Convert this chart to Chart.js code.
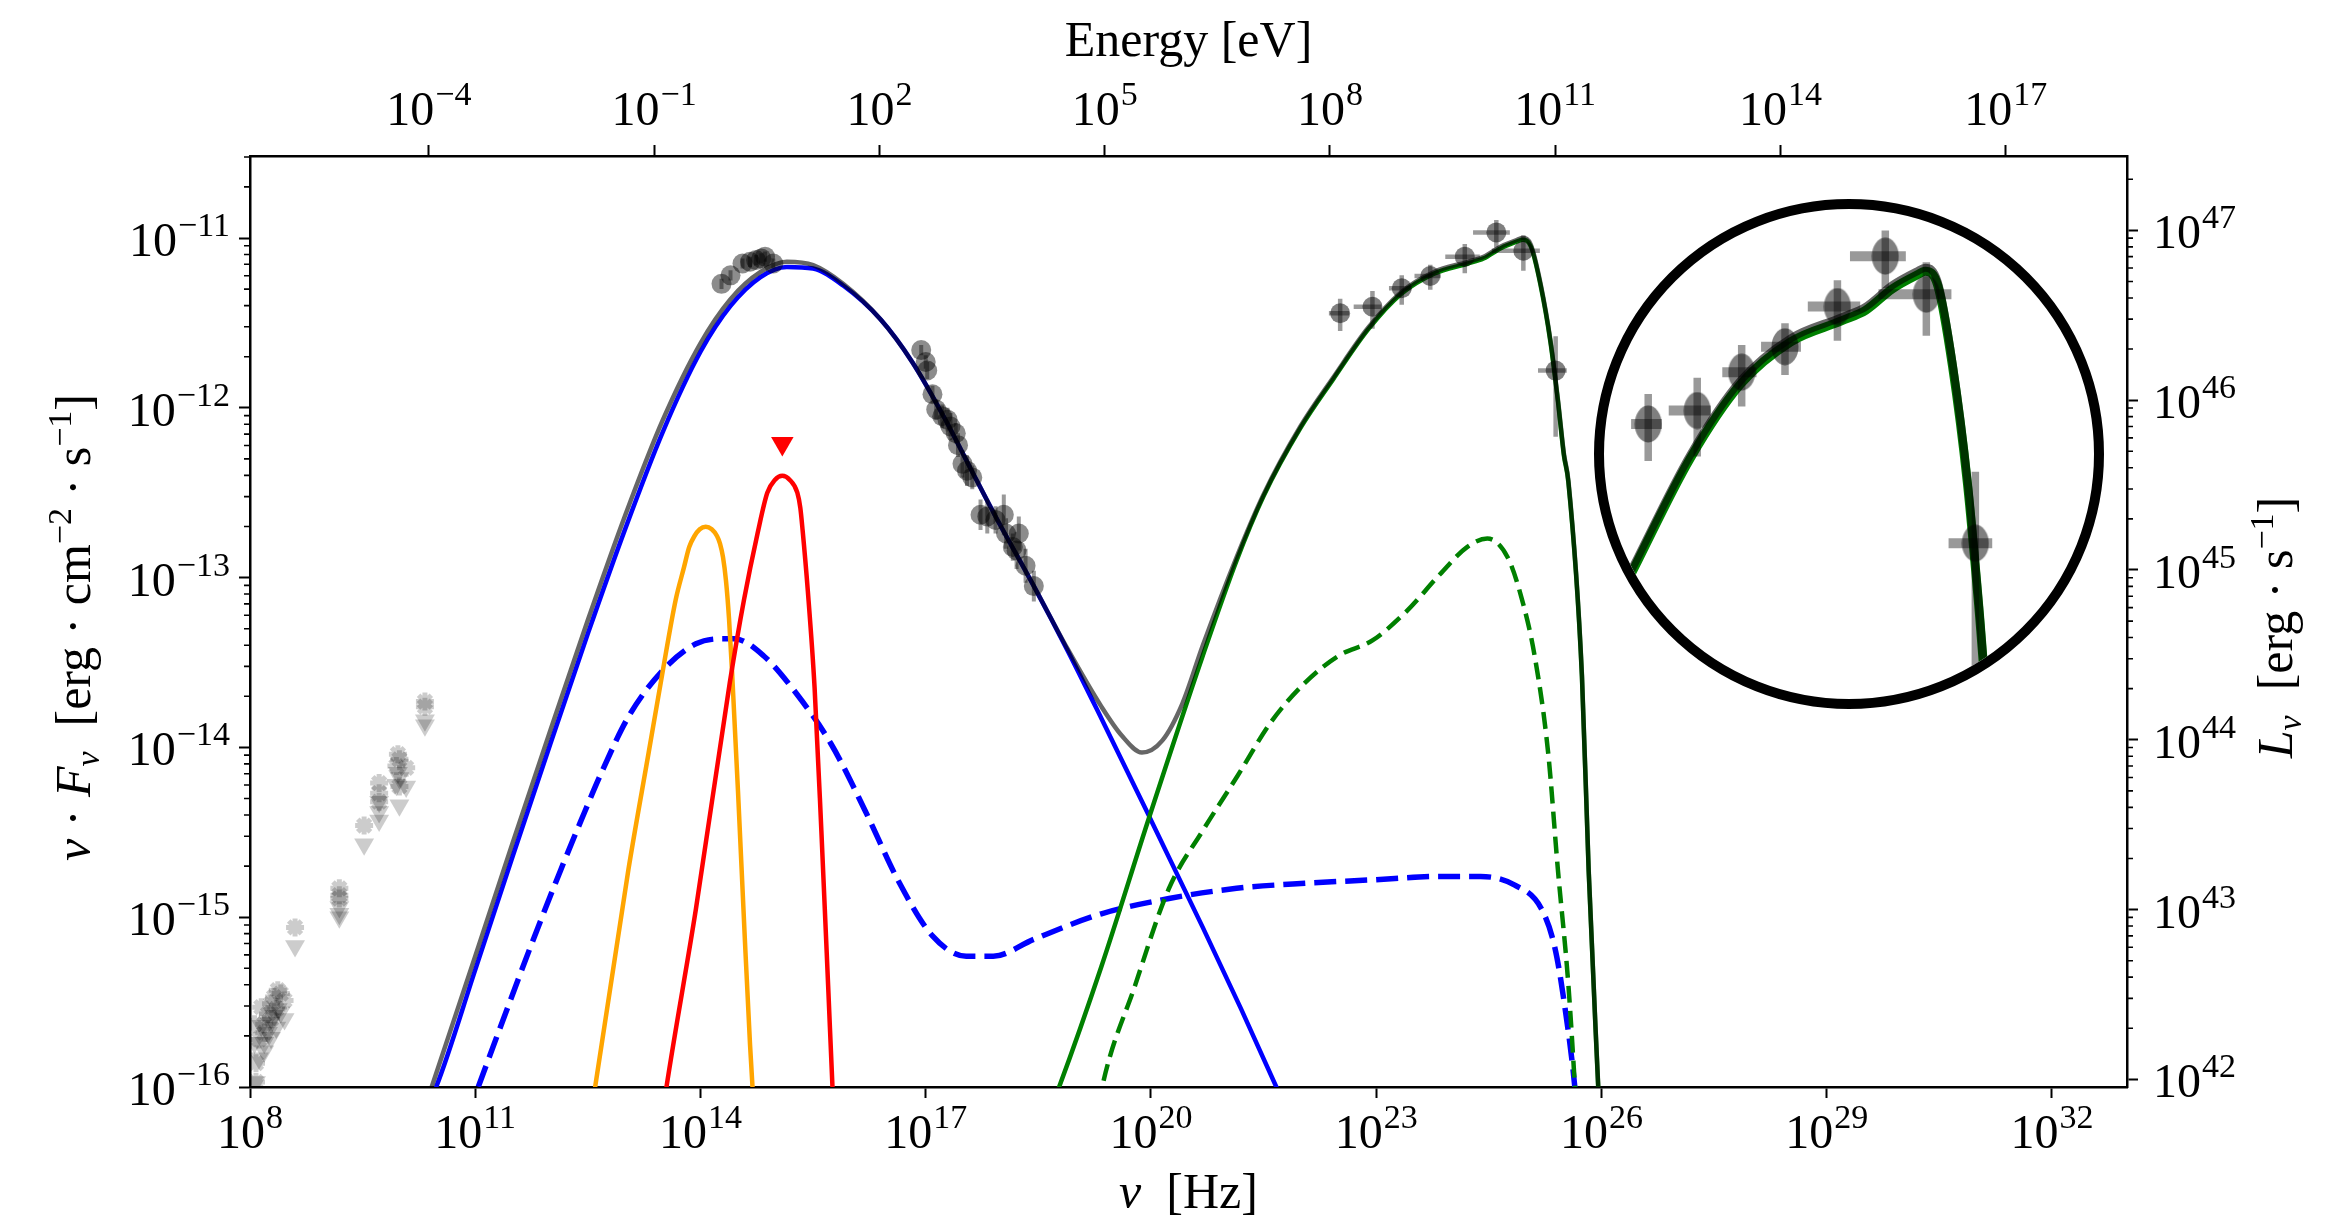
<!DOCTYPE html>
<html>
<head>
<meta charset="utf-8">
<script src="https://cdn.jsdelivr.net/npm/chart.js@4.4.1/dist/chart.umd.min.js"></script>
<style>
  html, body { margin: 0; padding: 0; background: #fff; }
  #wrap { position: relative; width: 2332px; height: 1225px; }
  #zoomBox { position: absolute; left: 1594px; top: 199px; width: 490px; height: 490px;
             border: 10px solid #000; border-radius: 50%; overflow: hidden; background: #fff; }
</style>
</head>
<body>
<div id="wrap">
  <canvas id="sed" width="2332" height="1225"></canvas>
  <div id="zoomBox"><canvas id="zoom" width="490" height="490"></canvas></div>
</div>
<script>
// all values are log10: frequency in Hz, nuFnu in erg cm^-2 s^-1
const nuTicks = [8, 11, 14, 17, 20, 23, 26, 29, 32];
const eTicks = [-4, -1, 2, 5, 8, 11, 14, 17];
const fTicks = [-16, -15, -14, -13, -12, -11];
const lTicks = [42, 43, 44, 45, 46, 47];

const H_EV = 4.135667e-15;     // eV per Hz
const LUM_OFFSET = 57.955;     // log10(L / nuFnu)

// total model (grey)
const totNu = [10.2, 10.42, 11.0, 11.5, 12.0, 12.5, 13.0, 13.5, 14.0, 14.4, 14.8, 15.15, 15.5, 15.9, 16.4, 16.82, 17.25, 17.6, 17.93, 18.44, 18.89, 19.34, 19.61, 19.88, 20.15, 20.42, 20.69, 21.14, 21.5, 21.99, 22.43, 22.89, 23.33, 23.77, 24.22, 24.43, 24.66, 24.88, 24.95, 25.06, 25.19, 25.32, 25.42, 25.5, 25.56, 25.74, 25.83, 25.96, 26.05];
const totF = [-16.3, -16, -15.23, -14.56, -13.90, -13.25, -12.63, -12.07, -11.62, -11.36, -11.20, -11.14, -11.16, -11.27, -11.48, -11.73, -12.06, -12.36, -12.64, -13.05, -13.42, -13.76, -13.93, -14.03, -13.96, -13.74, -13.40, -12.88, -12.51, -12.11, -11.82, -11.53, -11.32, -11.20, -11.14, -11.11, -11.05, -11.01, -11.00, -11.04, -11.27, -11.60, -11.95, -12.27, -12.43, -13.57, -14.72, -16.02, -16.9];

// synchrotron (blue)
const synNu = [10.3, 10.48, 11.0, 11.5, 12.0, 12.5, 13.0, 13.5, 14.0, 14.4, 14.8, 15.15, 15.5, 15.9, 16.4, 16.82, 17.25, 17.6, 17.93, 18.44, 18.89, 19.34, 19.97, 20.69, 21.2, 21.67, 21.85];
const synF = [-16.17, -16, -15.31, -14.64, -13.98, -13.33, -12.71, -12.14, -11.67, -11.40, -11.23, -11.17, -11.18, -11.28, -11.48, -11.73, -12.06, -12.36, -12.64, -13.05, -13.43, -13.83, -14.40, -15.06, -15.54, -16.0, -16.18];

// second leptonic component (blue dashed)
const sscNu = [10.9, 11.04, 11.4, 11.74, 12.14, 12.41, 12.68, 13.04, 13.49, 13.94, 14.30, 14.45, 14.84, 15.29, 15.74, 16.19, 16.64, 17.09, 17.54, 17.90, 18.44, 19.34, 20.24, 21.14, 22.05, 22.95, 23.85, 24.39, 24.84, 25.20, 25.38, 25.51, 25.65, 25.7];
const sscF = [-16.17, -16, -15.57, -15.17, -14.72, -14.43, -14.15, -13.82, -13.55, -13.39, -13.36, -13.36, -13.46, -13.69, -13.98, -14.37, -14.79, -15.11, -15.23, -15.23, -15.13, -14.98, -14.89, -14.83, -14.80, -14.78, -14.76, -14.76, -14.81, -14.95, -15.18, -15.52, -16.02, -16.3];

// external Compton (green)
const ecNu = [18.6, 18.76, 19.34, 19.97, 20.69, 21.14, 21.5, 21.99, 22.43, 22.89, 23.33, 23.77, 24.22, 24.43, 24.66, 24.88, 24.95, 25.06, 25.19, 25.32, 25.42, 25.5, 25.56, 25.74, 25.83, 25.96, 26.05];
const ecF = [-16.2, -16.02, -15.29, -14.42, -13.46, -12.90, -12.52, -12.12, -11.83, -11.54, -11.33, -11.21, -11.15, -11.12, -11.06, -11.02, -11.01, -11.05, -11.28, -11.61, -11.96, -12.28, -12.44, -13.58, -14.73, -16.03, -16.9];

// green dashed
const ecdNu = [19.2, 19.34, 19.79, 20.24, 20.69, 21.15, 21.60, 22.05, 22.50, 22.95, 23.40, 23.85, 24.21, 24.48, 24.75, 24.93, 25.11, 25.29, 25.42, 25.56, 25.65, 25.7];
const ecdF = [-16.4, -16.02, -15.40, -14.83, -14.49, -14.17, -13.85, -13.62, -13.46, -13.37, -13.20, -12.98, -12.82, -12.77, -12.88, -13.11, -13.46, -14.03, -14.72, -15.40, -16.02, -16.4];

// accretion disk (orange) and BLR (red)
const diskNu = [12.5, 12.59, 13.04, 13.31, 13.49, 13.67, 13.78, 13.85, 13.92, 13.99, 14.07, 14.15, 14.22, 14.26, 14.30, 14.34, 14.38, 14.42, 14.50, 14.59, 14.66, 14.72];
const diskF = [-16.3, -16.02, -14.72, -14.03, -13.57, -13.13, -12.94, -12.82, -12.755, -12.715, -12.70, -12.715, -12.755, -12.80, -12.88, -13.02, -13.24, -13.55, -14.26, -15.12, -15.75, -16.2];
const blrNu = [13.45, 13.54, 13.94, 14.39, 14.58, 14.76, 14.89, 14.99, 15.09, 15.19, 15.29, 15.33, 15.36, 15.43, 15.52, 15.61, 15.70, 15.76, 15.8];
const blrF = [-16.3, -16.02, -14.95, -13.62, -13.13, -12.74, -12.50, -12.425, -12.40, -12.425, -12.50, -12.59, -12.72, -13.08, -13.65, -14.49, -15.40, -16.02, -16.4];

// observations
const optNu = [14.28, 14.40, 14.56, 14.66, 14.74, 14.81, 14.86, 14.97];
const optF = [-11.27, -11.22, -11.15, -11.14, -11.13, -11.12, -11.11, -11.15];
const optErr = [0.03, 0.03, 0.03, 0.03, 0.03, 0.03, 0.03, 0.03];

const xrNu = [16.94, 17.00, 17.02, 17.09, 17.14, 17.22, 17.29, 17.33, 17.40, 17.43, 17.49, 17.55, 17.62, 17.73, 17.82, 17.93, 18.04, 18.07, 18.24, 18.16, 18.21, 18.33, 18.44];
const xrF = [-11.66, -11.73, -11.78, -11.92, -12.01, -12.05, -12.07, -12.11, -12.15, -12.22, -12.33, -12.37, -12.41, -12.63, -12.64, -12.66, -12.63, -12.74, -12.74, -12.82, -12.84, -12.93, -13.05];
const xrErr = [0.03, 0.04, 0.05, 0.05, 0.06, 0.07, 0.07, 0.08, 0.06, 0.07, 0.08, 0.09, 0.07, 0.09, 0.10, 0.08, 0.12, 0.09, 0.10, 0.08, 0.11, 0.10, 0.09];

const gamNu = [22.52, 22.95, 23.34, 23.72, 24.18, 24.60, 24.96, 25.39];
const gamF = [-11.443, -11.405, -11.296, -11.224, -11.110, -10.967, -11.075, -11.781];
const gamXlo = [0.15, 0.25, 0.17, 0.21, 0.26, 0.31, 0.42, 0.235];
const gamXhi = [0.12, 0.12, 0.13, 0.14, 0.20, 0.18, 0.22, 0.148];
const gamYlo = [0.105, 0.13, 0.097, 0.08, 0.097, 0.09, 0.118, 0.39];
const gamYhi = [0.085, 0.093, 0.077, 0.067, 0.075, 0.073, 0.091, 0.203];

// radio upper limits
const ulNu = [8.06, 8.08, 8.08, 8.12, 8.15, 8.19, 8.19, 8.24, 8.28, 8.28, 8.32, 8.35, 8.37, 8.41, 8.46, 8.60, 9.19, 9.19, 9.19, 9.52, 9.72, 9.72, 9.72, 9.95, 9.97, 9.99, 9.99, 10.08, 10.33, 10.33];
const ulF = [-15.63, -15.86, -15.97, -15.72, -15.53, -15.63, -15.68, -15.57, -15.51, -15.60, -15.47, -15.54, -15.43, -15.45, -15.49, -15.06, -14.83, -14.87, -14.89, -14.46, -14.21, -14.27, -14.32, -14.11, -14.04, -14.07, -14.23, -14.12, -13.73, -13.76];
const UL_DROP = 0.11;

// optical upper limit (red)
const redUlNu = [15.09];
const redUlF = [-12.21];

const SERIF = '"Liberation Serif", "DejaVu Serif", serif';
const P = v => Math.pow(10, v);
const curve = (xs, ys) => xs.map((x, i) => ({ x: P(x), y: P(ys[i]) }));

function vBars(xs, ys, lo, hi) {
  const out = [];
  xs.forEach((x, i) => out.push({ x: P(x), y: P(ys[i] - lo[i]) }, { x: P(x), y: P(ys[i] + hi[i]) }, { x: P(x), y: null }));
  return out;
}
function hBars(xs, ys, lo, hi) {
  const out = [];
  xs.forEach((x, i) => out.push({ x: P(x - lo[i]), y: P(ys[i]) }, { x: P(x + hi[i]), y: P(ys[i]) }, { x: P(x), y: null }));
  return out;
}

const lineDs = (data, color, width, order, dash) => ({
  data, borderColor: color, borderWidth: width, pointRadius: 0, fill: false, order,
  borderDash: dash || [], cubicInterpolationMode: 'monotone'
});
const barDs = (data, width, order) => ({
  data, borderColor: 'rgba(0,0,0,0.4)', borderWidth: width, pointRadius: 0,
  tension: 0, cubicInterpolationMode: 'default', spanGaps: false, order
});
const dotDs = (data, style, radius, color, order, extra) => Object.assign({
  data, showLine: false, pointStyle: style, pointRadius: radius,
  pointBackgroundColor: color, pointBorderColor: color, pointBorderWidth: 0, order
}, extra || {});

function powLabel(ctx, exp, x, y, align) {
  const base = '10';
  const sup = exp < 0 ? '\u2212' + (-exp) : String(exp);
  ctx.font = '48px ' + SERIF;
  const wb = ctx.measureText(base).width;
  ctx.font = '34px ' + SERIF;
  const ws = ctx.measureText(sup).width;
  const w = wb + ws + 1;
  const x0 = align === 'center' ? x - w / 2 : align === 'right' ? x - w : x;
  ctx.textAlign = 'left';
  ctx.textBaseline = 'alphabetic';
  ctx.font = '48px ' + SERIF;
  ctx.fillText(base, x0, y);
  ctx.font = '34px ' + SERIF;
  ctx.fillText(sup, x0 + wb + 1, y - 20);
}

function runs(ctx, parts, x, y) {
  const fontOf = s => (s.includes('i') ? 'italic ' : '') + (s.includes('sub') || s.includes('sup') ? '34px ' : '50px ') + SERIF;
  let w = 0;
  parts.forEach(([t, s]) => { ctx.font = fontOf(s); w += ctx.measureText(t).width; });
  let cx = x - w / 2;
  ctx.textAlign = 'left';
  ctx.textBaseline = 'alphabetic';
  parts.forEach(([t, s]) => {
    ctx.font = fontOf(s);
    const dy = s.includes('sub') ? 9 : s.includes('sup') ? -19 : 0;
    ctx.fillText(t, cx, y + dy);
    cx += ctx.measureText(t).width;
  });
}

const axisText = {
  id: 'axisText',
  afterDraw(chart) {
    const { ctx, chartArea: a, scales } = chart;
    ctx.save();
    ctx.fillStyle = '#000';
    ctx.strokeStyle = '#000';
    // minor ticks on both y axes
    ctx.lineWidth = 1.6;
    ctx.beginPath();
    for (let k = -17; k <= -10; k++) for (let m = 2; m <= 9; m++) {
      const v = m * P(k);
      if (v < scales.y.min || v > scales.y.max) continue;
      const py = scales.y.getPixelForValue(v);
      ctx.moveTo(a.left - 6, py); ctx.lineTo(a.left, py);
    }
    for (let k = 41; k <= 48; k++) for (let m = 2; m <= 9; m++) {
      const v = m * P(k);
      if (v < scales.yR.min || v > scales.yR.max) continue;
      const py = scales.yR.getPixelForValue(v);
      ctx.moveTo(a.right, py); ctx.lineTo(a.right + 6, py);
    }
    ctx.stroke();

    nuTicks.forEach(e => powLabel(ctx, e, scales.x.getPixelForValue(P(e)), 1148, 'center'));
    eTicks.forEach(e => powLabel(ctx, e, scales.xTop.getPixelForValue(P(e)), 125, 'center'));
    fTicks.forEach(e => powLabel(ctx, e, a.left - 20, scales.y.getPixelForValue(P(e)) + 18, 'right'));
    lTicks.forEach(e => powLabel(ctx, e, a.right + 26, scales.yR.getPixelForValue(P(e)) + 18, 'left'));

    const midX = (a.left + a.right) / 2;
    const midY = (a.top + a.bottom) / 2 + 6;
    runs(ctx, [['Energy [eV]', '']], midX, 56);
    runs(ctx, [['\u03bd', 'i'], ['  [Hz]', '']], midX, 1208);

    ctx.save();
    ctx.translate(90, midY);
    ctx.rotate(-Math.PI / 2);
    runs(ctx, [['\u03bd', 'i'], [' \u00b7 ', ''], ['F', 'i'], ['\u03bd', 'isub'], ['  [erg \u00b7 cm', ''], ['\u22122', 'sup'], [' \u00b7 s', ''], ['\u22121', 'sup'], [']', '']], 0, 0);
    ctx.restore();

    ctx.save();
    ctx.translate(2292, midY);
    ctx.rotate(-Math.PI / 2);
    runs(ctx, [['L', 'i'], ['\u03bd', 'isub'], ['  [erg \u00b7 s', ''], ['\u22121', 'sup'], [']', '']], 0, 0);
    ctx.restore();
    ctx.restore();
  }
};

const fixTicks = list => s => { s.ticks = list.map(e => ({ value: P(e) })); };
const axisCommon = {
  type: 'logarithmic',
  ticks: { display: false },
  grid: { drawOnChartArea: false, drawTicks: true, tickLength: 11, tickWidth: 2, tickColor: '#000' },
  border: { display: true, color: '#000', width: 2.5 }
};

new Chart(document.getElementById('sed'), {
  type: 'line',
  data: {
    datasets: [
      dotDs(curve(redUlNu, redUlF), 'triangle', 13, '#ff0000', 0, { pointRotation: 180 }),
      dotDs(curve(optNu, optF), 'circle', 10, 'rgba(0,0,0,0.45)', 1),
      dotDs(curve(xrNu, xrF), 'circle', 10, 'rgba(0,0,0,0.45)', 1),
      dotDs(curve(gamNu, gamF), 'circle', 10, 'rgba(0,0,0,0.5)', 1),
      barDs(vBars(optNu, optF, optErr, optErr), 4, 2),
      barDs(vBars(xrNu, xrF, xrErr, xrErr), 4, 2),
      barDs(vBars(gamNu, gamF, gamYlo, gamYhi), 4.5, 2),
      barDs(hBars(gamNu, gamF, gamXlo, gamXhi), 4.5, 2),
      lineDs(curve(totNu, totF), 'rgba(0,0,0,0.6)', 4.5, 3),
      lineDs(curve(ecNu, ecF), '#008000', 4.5, 4),
      lineDs(curve(synNu, synF), '#0000ff', 4.5, 5),
      lineDs(curve(blrNu, blrF), '#ff0000', 4.5, 6),
      lineDs(curve(diskNu, diskF), '#ffa500', 4.5, 7),
      lineDs(curve(ecdNu, ecdF), '#008000', 4.5, 8, [17, 8]),
      lineDs(curve(sscNu, sscF), '#0000ff', 5.5, 9, [22, 9]),
      dotDs(curve(ulNu, ulF), 'star', 9, 'rgba(0,0,0,0.2)', 10, { pointBorderWidth: 5 }),
      dotDs(curve(ulNu, ulF.map(v => v - UL_DROP)), 'triangle', 11.5, 'rgba(0,0,0,0.2)', 10, { pointRotation: 180 })
    ]
  },
  options: {
    responsive: false,
    animation: false,
    devicePixelRatio: 1,
    layout: { padding: 0 },
    plugins: { legend: { display: false }, tooltip: { enabled: false } },
    events: [],
    scales: {
      x: Object.assign({}, axisCommon, { position: 'bottom', min: P(8), max: P(33),
        afterBuildTicks: fixTicks(nuTicks), afterFit: s => { s.height = 138; } }),
      xTop: Object.assign({}, axisCommon, { position: 'top', min: P(8) * H_EV, max: P(33) * H_EV,
        afterBuildTicks: fixTicks(eTicks), afterFit: s => { s.height = 156; } }),
      y: Object.assign({}, axisCommon, { position: 'left', min: P(-16), max: P(-10.517),
        afterBuildTicks: fixTicks(fTicks), afterFit: s => { s.width = 250; } }),
      yR: Object.assign({}, axisCommon, { position: 'right', min: P(-16 + LUM_OFFSET), max: P(-10.517 + LUM_OFFSET),
        afterBuildTicks: fixTicks(lTicks), afterFit: s => { s.width = 205; } })
    }
  },
  plugins: [axisText]
});

// magnified gamma-ray view inside the circle
const ell = document.createElement('canvas');
ell.width = 28; ell.height = 38;
const ectx = ell.getContext('2d');
ectx.fillStyle = 'rgba(0,0,0,0.5)';
ectx.beginPath();
ectx.ellipse(14, 19, 13.5, 18.5, 0, 0, Math.PI * 2);
ectx.fill();

new Chart(document.getElementById('zoom'), {
  type: 'line',
  data: {
    datasets: [
      dotDs(curve(gamNu, gamF), ell, 14, 'rgba(0,0,0,0.5)', 1),
      barDs(vBars(gamNu, gamF, gamYlo, gamYhi), 7.5, 2),
      barDs(hBars(gamNu, gamF, gamXlo, gamXhi), 10, 2),
      lineDs(curve(totNu, totF), 'rgba(0,0,0,0.6)', 8, 3),
      lineDs(curve(ecNu, ecF), '#008000', 9, 4)
    ]
  },
  options: {
    responsive: false,
    animation: false,
    devicePixelRatio: 1,
    layout: { padding: 0 },
    plugins: { legend: { display: false }, tooltip: { enabled: false } },
    events: [],
    scales: {
      x: { type: 'logarithmic', display: false, min: P(22.255), max: P(26.308) },
      y: { type: 'logarithmic', display: false, min: P(-12.183), max: P(-10.873) }
    }
  }
});
</script>
</body>
</html>
